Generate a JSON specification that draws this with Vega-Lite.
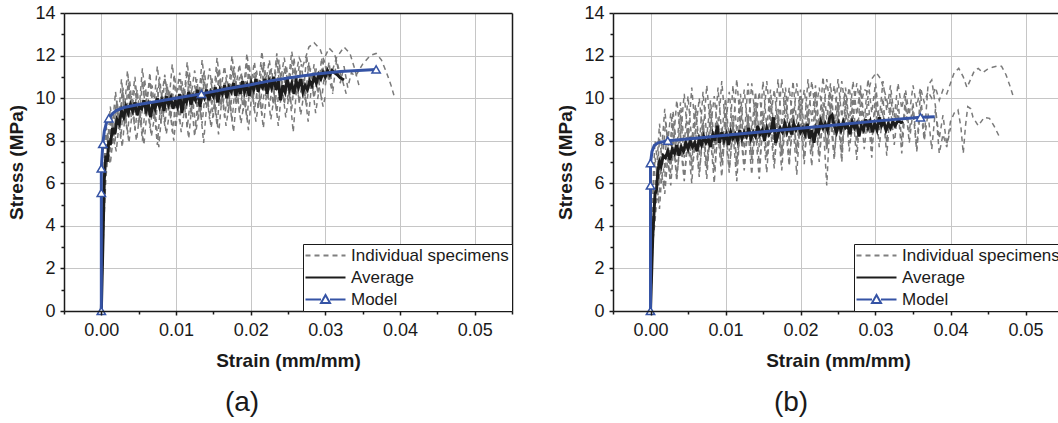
{
"$schema": "https://vega.github.io/schema/vega-lite/v6.json",
"padding": {"left": 7, "top": 4, "right": 0, "bottom": 0},
"config": {
 "font": "Liberation Sans",
 "view": {"stroke": null},
 "axis": {"labelFont": "Liberation Sans", "labelFontSize": 18, "labelColor": "#1a1a1a", "titleFont": "Liberation Sans", "titleFontSize": 19, "titleFontWeight": "bold", "titleColor": "#1a1a1a", "domainColor": "#1a1a1a", "domainWidth": 1.5, "tickColor": "#1a1a1a", "tickWidth": 1.5, "gridColor": "#c6c6c6", "gridWidth": 1},
 "legend": {"labelFont": "Liberation Sans", "labelFontSize": 17, "labelColor": "#1a1a1a"},
 "title": {"font": "Liberation Sans", "fontSize": 28, "fontWeight": "normal", "color": "#1a1a1a"}
},
"datasets": {
 "aS": [
  {"s":1,"x":0,"y":0},{"s":1,"x":0.0002,"y":3},{"s":1,"x":0.0004,"y":6},{"s":1,"x":0.0006,"y":7.6},{"s":1,"x":0.0008,"y":8.4},{"s":1,"x":0.001,"y":7.9},{"s":1,"x":0.0013,"y":9.2},{"s":1,"x":0.0016,"y":8.3},{"s":1,"x":0.002,"y":9.8},{"s":1,"x":0.0024,"y":8.6},{"s":1,"x":0.0028,"y":10.4},{"s":1,"x":0.0032,"y":8.9},{"s":1,"x":0.0036,"y":10.9},{"s":1,"x":0.004,"y":9.1},{"s":1,"x":0.0045,"y":10.6},{"s":1,"x":0.005,"y":8.7},{"s":1,"x":0.0055,"y":10.8},{"s":1,"x":0.006,"y":9.3},{"s":1,"x":0.0065,"y":11.2},{"s":1,"x":0.007,"y":9.0},{"s":1,"x":0.0075,"y":10.5},{"s":1,"x":0.008,"y":8.8},{"s":1,"x":0.0085,"y":11.0},{"s":1,"x":0.009,"y":9.4},{"s":1,"x":0.0095,"y":10.3},{"s":1,"x":0.01,"y":8.6},{"s":1,"x":0.0105,"y":10.9},{"s":1,"x":0.011,"y":9.5},{"s":1,"x":0.0115,"y":11.3},{"s":1,"x":0.012,"y":9.2},{"s":1,"x":0.0125,"y":10.6},{"s":1,"x":0.013,"y":9.0},{"s":1,"x":0.0135,"y":11.1},{"s":1,"x":0.014,"y":9.7},{"s":1,"x":0.0145,"y":10.4},{"s":1,"x":0.015,"y":9.1},{"s":1,"x":0.0155,"y":11.4},{"s":1,"x":0.016,"y":9.6},{"s":1,"x":0.0165,"y":10.8},{"s":1,"x":0.017,"y":9.3},{"s":1,"x":0.0175,"y":11.5},{"s":1,"x":0.018,"y":9.8},{"s":1,"x":0.0185,"y":11.0},{"s":1,"x":0.019,"y":9.4},{"s":1,"x":0.0195,"y":11.7},{"s":1,"x":0.02,"y":10.0},{"s":1,"x":0.0205,"y":11.2},{"s":1,"x":0.021,"y":9.5},{"s":1,"x":0.0215,"y":11.6},{"s":1,"x":0.022,"y":10.1},{"s":1,"x":0.0225,"y":11.3},{"s":1,"x":0.023,"y":9.7},{"s":1,"x":0.0235,"y":11.9},{"s":1,"x":0.024,"y":10.2},{"s":1,"x":0.0245,"y":11.4},{"s":1,"x":0.025,"y":9.9},{"s":1,"x":0.0255,"y":11.8},{"s":1,"x":0.026,"y":10.3},{"s":1,"x":0.0265,"y":11.5},{"s":1,"x":0.027,"y":10.0},{"s":1,"x":0.0275,"y":12.0},{"s":1,"x":0.028,"y":10.4},{"s":1,"x":0.0285,"y":11.6},{"s":1,"x":0.029,"y":10.2},{"s":1,"x":0.0295,"y":11.9},{"s":1,"x":0.03,"y":10.6},{"s":1,"x":0.0305,"y":11.7},{"s":1,"x":0.031,"y":10.3},{"s":1,"x":0.0315,"y":11.8},{"s":1,"x":0.032,"y":10.7},{"s":1,"x":0.0325,"y":11.5},{"s":1,"x":0.033,"y":10.5},{"s":1,"x":0.0335,"y":11.2},{"s":1,"x":0.034,"y":11.0},{"s":1,"x":0.035,"y":11.6},{"s":1,"x":0.036,"y":12.0},{"s":1,"x":0.0368,"y":12.1},{"s":1,"x":0.0375,"y":11.8},{"s":1,"x":0.0382,"y":11.2},{"s":1,"x":0.0388,"y":10.6},{"s":1,"x":0.0393,"y":10.0},
  {"s":2,"x":0,"y":0},{"s":2,"x":0.0003,"y":4.5},{"s":2,"x":0.0005,"y":6.8},{"s":2,"x":0.0008,"y":7.9},{"s":2,"x":0.0011,"y":7.2},{"s":2,"x":0.0014,"y":8.6},{"s":2,"x":0.0018,"y":7.8},{"s":2,"x":0.0022,"y":9.4},{"s":2,"x":0.0026,"y":8.1},{"s":2,"x":0.003,"y":9.8},{"s":2,"x":0.0035,"y":8.3},{"s":2,"x":0.004,"y":10.1},{"s":2,"x":0.0045,"y":8.5},{"s":2,"x":0.005,"y":9.9},{"s":2,"x":0.0055,"y":8.0},{"s":2,"x":0.006,"y":10.2},{"s":2,"x":0.0065,"y":8.6},{"s":2,"x":0.007,"y":9.7},{"s":2,"x":0.0075,"y":7.8},{"s":2,"x":0.008,"y":10.0},{"s":2,"x":0.0085,"y":8.7},{"s":2,"x":0.009,"y":10.4},{"s":2,"x":0.0095,"y":8.4},{"s":2,"x":0.01,"y":9.9},{"s":2,"x":0.0105,"y":8.9},{"s":2,"x":0.011,"y":10.5},{"s":2,"x":0.0115,"y":8.6},{"s":2,"x":0.012,"y":10.1},{"s":2,"x":0.0125,"y":8.2},{"s":2,"x":0.013,"y":10.3},{"s":2,"x":0.0135,"y":8.8},{"s":2,"x":0.014,"y":10.6},{"s":2,"x":0.0145,"y":9.0},{"s":2,"x":0.015,"y":10.2},{"s":2,"x":0.0155,"y":8.7},{"s":2,"x":0.016,"y":10.7},{"s":2,"x":0.0165,"y":9.1},{"s":2,"x":0.017,"y":10.4},{"s":2,"x":0.0175,"y":8.9},{"s":2,"x":0.018,"y":10.9},{"s":2,"x":0.0185,"y":9.3},{"s":2,"x":0.019,"y":10.5},{"s":2,"x":0.0195,"y":9.0},{"s":2,"x":0.02,"y":11.0},{"s":2,"x":0.0205,"y":9.4},{"s":2,"x":0.021,"y":10.7},{"s":2,"x":0.0215,"y":9.2},{"s":2,"x":0.022,"y":11.1},{"s":2,"x":0.0225,"y":9.6},{"s":2,"x":0.023,"y":10.8},{"s":2,"x":0.0235,"y":9.3},{"s":2,"x":0.024,"y":11.2},{"s":2,"x":0.0245,"y":9.7},{"s":2,"x":0.025,"y":10.9},{"s":2,"x":0.0255,"y":9.5},{"s":2,"x":0.026,"y":11.3},{"s":2,"x":0.0265,"y":9.8},{"s":2,"x":0.027,"y":11.0},{"s":2,"x":0.0275,"y":9.6},{"s":2,"x":0.028,"y":11.4},{"s":2,"x":0.0285,"y":10.0},{"s":2,"x":0.029,"y":11.1},{"s":2,"x":0.0295,"y":9.9},{"s":2,"x":0.03,"y":11.5},{"s":2,"x":0.0305,"y":10.8},{"s":2,"x":0.0315,"y":11.9},{"s":2,"x":0.0325,"y":12.4},{"s":2,"x":0.0333,"y":12.1},{"s":2,"x":0.034,"y":11.3},{"s":2,"x":0.0345,"y":10.6},
  {"s":3,"x":0,"y":0},{"s":3,"x":0.0002,"y":4},{"s":3,"x":0.0004,"y":7.2},{"s":3,"x":0.0006,"y":8.8},{"s":3,"x":0.0009,"y":8.1},{"s":3,"x":0.0012,"y":9.6},{"s":3,"x":0.0015,"y":8.7},{"s":3,"x":0.0019,"y":10.3},{"s":3,"x":0.0023,"y":9.0},{"s":3,"x":0.0027,"y":10.9},{"s":3,"x":0.0031,"y":9.4},{"s":3,"x":0.0035,"y":11.3},{"s":3,"x":0.004,"y":9.6},{"s":3,"x":0.0045,"y":11.0},{"s":3,"x":0.005,"y":9.2},{"s":3,"x":0.0055,"y":11.4},{"s":3,"x":0.006,"y":9.8},{"s":3,"x":0.0065,"y":10.8},{"s":3,"x":0.007,"y":9.5},{"s":3,"x":0.0075,"y":11.5},{"s":3,"x":0.008,"y":9.9},{"s":3,"x":0.0085,"y":11.1},{"s":3,"x":0.009,"y":9.6},{"s":3,"x":0.0095,"y":11.6},{"s":3,"x":0.01,"y":10.0},{"s":3,"x":0.0105,"y":11.2},{"s":3,"x":0.011,"y":9.7},{"s":3,"x":0.0115,"y":11.7},{"s":3,"x":0.012,"y":10.1},{"s":3,"x":0.0125,"y":11.3},{"s":3,"x":0.013,"y":9.8},{"s":3,"x":0.0135,"y":11.8},{"s":3,"x":0.014,"y":10.2},{"s":3,"x":0.0145,"y":11.4},{"s":3,"x":0.015,"y":9.9},{"s":3,"x":0.0155,"y":11.9},{"s":3,"x":0.016,"y":10.4},{"s":3,"x":0.0165,"y":11.5},{"s":3,"x":0.017,"y":10.1},{"s":3,"x":0.0175,"y":12.0},{"s":3,"x":0.018,"y":10.5},{"s":3,"x":0.0185,"y":11.6},{"s":3,"x":0.019,"y":10.2},{"s":3,"x":0.0195,"y":12.1},{"s":3,"x":0.02,"y":10.6},{"s":3,"x":0.0205,"y":11.7},{"s":3,"x":0.021,"y":10.3},{"s":3,"x":0.0215,"y":12.2},{"s":3,"x":0.022,"y":10.7},{"s":3,"x":0.0225,"y":11.8},{"s":3,"x":0.023,"y":10.4},{"s":3,"x":0.0235,"y":12.1},{"s":3,"x":0.024,"y":10.8},{"s":3,"x":0.0245,"y":11.9},{"s":3,"x":0.025,"y":10.6},{"s":3,"x":0.0255,"y":12.2},{"s":3,"x":0.026,"y":11.0},{"s":3,"x":0.0265,"y":11.9},{"s":3,"x":0.027,"y":11.5},{"s":3,"x":0.0278,"y":12.4},{"s":3,"x":0.0285,"y":12.6},{"s":3,"x":0.0293,"y":12.3},{"s":3,"x":0.03,"y":11.6},{"s":3,"x":0.0306,"y":10.8},{"s":3,"x":0.031,"y":10.2},
  {"s":4,"x":0,"y":0},{"s":4,"x":0.0003,"y":3.8},{"s":4,"x":0.0006,"y":6.2},{"s":4,"x":0.0009,"y":7.4},{"s":4,"x":0.0012,"y":6.9},{"s":4,"x":0.0016,"y":8.2},{"s":4,"x":0.002,"y":7.5},{"s":4,"x":0.0024,"y":8.9},{"s":4,"x":0.0028,"y":7.7},{"s":4,"x":0.0032,"y":9.3},{"s":4,"x":0.0037,"y":7.9},{"s":4,"x":0.0042,"y":9.6},{"s":4,"x":0.0047,"y":8.0},{"s":4,"x":0.0052,"y":9.4},{"s":4,"x":0.0057,"y":7.8},{"s":4,"x":0.0062,"y":9.7},{"s":4,"x":0.0067,"y":8.2},{"s":4,"x":0.0072,"y":9.3},{"s":4,"x":0.0077,"y":7.7},{"s":4,"x":0.0082,"y":9.8},{"s":4,"x":0.0087,"y":8.3},{"s":4,"x":0.0092,"y":9.5},{"s":4,"x":0.0097,"y":8.0},{"s":4,"x":0.0102,"y":9.9},{"s":4,"x":0.0107,"y":8.4},{"s":4,"x":0.0112,"y":9.6},{"s":4,"x":0.0117,"y":8.1},{"s":4,"x":0.0122,"y":10.0},{"s":4,"x":0.0127,"y":8.5},{"s":4,"x":0.0132,"y":9.7},{"s":4,"x":0.0137,"y":7.9},{"s":4,"x":0.0142,"y":10.1},{"s":4,"x":0.0147,"y":8.6},{"s":4,"x":0.0152,"y":9.8},{"s":4,"x":0.0157,"y":8.3},{"s":4,"x":0.0162,"y":10.2},{"s":4,"x":0.0167,"y":8.7},{"s":4,"x":0.0172,"y":9.9},{"s":4,"x":0.0177,"y":8.4},{"s":4,"x":0.0182,"y":10.3},{"s":4,"x":0.0187,"y":8.8},{"s":4,"x":0.0192,"y":10.0},{"s":4,"x":0.0197,"y":8.5},{"s":4,"x":0.0202,"y":10.4},{"s":4,"x":0.0207,"y":8.9},{"s":4,"x":0.0212,"y":10.1},{"s":4,"x":0.0217,"y":8.6},{"s":4,"x":0.0222,"y":10.5},{"s":4,"x":0.0227,"y":9.0},{"s":4,"x":0.0232,"y":10.2},{"s":4,"x":0.0237,"y":8.7},{"s":4,"x":0.0242,"y":10.6},{"s":4,"x":0.0247,"y":9.1},{"s":4,"x":0.0252,"y":10.3},{"s":4,"x":0.0257,"y":8.4},{"s":4,"x":0.0262,"y":10.7},{"s":4,"x":0.0267,"y":9.2},{"s":4,"x":0.0272,"y":10.4},{"s":4,"x":0.0277,"y":8.9},{"s":4,"x":0.0282,"y":10.8},{"s":4,"x":0.0287,"y":9.3},{"s":4,"x":0.0292,"y":10.5},{"s":4,"x":0.0297,"y":9.6},{"s":4,"x":0.03,"y":10.1},
  {"s":5,"x":0,"y":0},{"s":5,"x":0.0002,"y":3.5},{"s":5,"x":0.0005,"y":7.0},{"s":5,"x":0.0007,"y":8.3},{"s":5,"x":0.001,"y":7.6},{"s":5,"x":0.0013,"y":9.0},{"s":5,"x":0.0017,"y":8.2},{"s":5,"x":0.0021,"y":9.9},{"s":5,"x":0.0025,"y":8.6},{"s":5,"x":0.0029,"y":10.5},{"s":5,"x":0.0033,"y":8.8},{"s":5,"x":0.0038,"y":10.8},{"s":5,"x":0.0043,"y":9.0},{"s":5,"x":0.0048,"y":10.4},{"s":5,"x":0.0053,"y":8.7},{"s":5,"x":0.0058,"y":10.9},{"s":5,"x":0.0063,"y":9.2},{"s":5,"x":0.0068,"y":10.6},{"s":5,"x":0.0073,"y":8.9},{"s":5,"x":0.0078,"y":11.0},{"s":5,"x":0.0083,"y":9.3},{"s":5,"x":0.0088,"y":10.7},{"s":5,"x":0.0093,"y":9.0},{"s":5,"x":0.0098,"y":11.1},{"s":5,"x":0.0103,"y":9.4},{"s":5,"x":0.0108,"y":10.8},{"s":5,"x":0.0113,"y":9.1},{"s":5,"x":0.0118,"y":11.2},{"s":5,"x":0.0123,"y":9.5},{"s":5,"x":0.0128,"y":10.9},{"s":5,"x":0.0133,"y":9.2},{"s":5,"x":0.0138,"y":11.3},{"s":5,"x":0.0143,"y":9.6},{"s":5,"x":0.0148,"y":11.0},{"s":5,"x":0.0153,"y":9.3},{"s":5,"x":0.0158,"y":11.4},{"s":5,"x":0.0163,"y":9.7},{"s":5,"x":0.0168,"y":11.1},{"s":5,"x":0.0173,"y":9.4},{"s":5,"x":0.0178,"y":11.5},{"s":5,"x":0.0183,"y":9.8},{"s":5,"x":0.0188,"y":11.2},{"s":5,"x":0.0193,"y":9.5},{"s":5,"x":0.0198,"y":11.6},{"s":5,"x":0.0203,"y":9.9},{"s":5,"x":0.0208,"y":11.3},{"s":5,"x":0.0213,"y":9.6},{"s":5,"x":0.0218,"y":11.7},{"s":5,"x":0.0223,"y":10.0},{"s":5,"x":0.0228,"y":11.4},{"s":5,"x":0.0233,"y":9.7},{"s":5,"x":0.0238,"y":11.8},{"s":5,"x":0.0243,"y":10.1},{"s":5,"x":0.0248,"y":11.5},{"s":5,"x":0.0253,"y":9.8},{"s":5,"x":0.0258,"y":11.9},{"s":5,"x":0.0263,"y":10.2},{"s":5,"x":0.0268,"y":11.6},{"s":5,"x":0.0273,"y":9.9},{"s":5,"x":0.0278,"y":11.7},{"s":5,"x":0.0283,"y":10.3},{"s":5,"x":0.0288,"y":11.4},{"s":5,"x":0.0293,"y":11.0},{"s":5,"x":0.0299,"y":11.9},{"s":5,"x":0.0305,"y":12.35},{"s":5,"x":0.0312,"y":12.1},{"s":5,"x":0.0318,"y":11.4},{"s":5,"x":0.0324,"y":10.7},{"s":5,"x":0.0328,"y":10.2}
 ],
 "aAvg": [
  {"x":0,"y":0},{"x":0.0002,"y":3},{"x":0.0004,"y":6.2},{"x":0.0006,"y":7.3},{"x":0.0008,"y":7.0},{"x":0.001,"y":8.0},{"x":0.0012,"y":7.8},{"x":0.0015,"y":8.6},{"x":0.0018,"y":8.3},{"x":0.0021,"y":9.0},{"x":0.0024,"y":8.8},{"x":0.0027,"y":9.4},{"x":0.003,"y":9.1},{"x":0.0033,"y":9.6},{"x":0.0036,"y":9.3},{"x":0.0039,"y":9.7},{"x":0.0042,"y":9.4},{"x":0.0045,"y":9.8},{"x":0.0048,"y":9.2},{"x":0.0051,"y":9.6},{"x":0.0054,"y":9.5},{"x":0.0057,"y":9.9},{"x":0.006,"y":9.4},{"x":0.0063,"y":9.7},{"x":0.0066,"y":9.1},{"x":0.0069,"y":9.8},{"x":0.0072,"y":9.5},{"x":0.0075,"y":10.0},{"x":0.0078,"y":9.6},{"x":0.0081,"y":9.9},{"x":0.0084,"y":9.4},{"x":0.0087,"y":10.1},{"x":0.009,"y":9.7},{"x":0.0093,"y":10.0},{"x":0.0096,"y":9.5},{"x":0.0099,"y":9.9},{"x":0.0102,"y":9.6},{"x":0.0105,"y":10.2},{"x":0.0108,"y":9.3},{"x":0.0111,"y":10.0},{"x":0.0114,"y":9.8},{"x":0.0117,"y":10.3},{"x":0.012,"y":9.7},{"x":0.0123,"y":10.1},{"x":0.0126,"y":9.9},{"x":0.0129,"y":10.4},{"x":0.0132,"y":9.6},{"x":0.0135,"y":10.2},{"x":0.0138,"y":10.0},{"x":0.0141,"y":10.4},{"x":0.0144,"y":9.9},{"x":0.0147,"y":10.3},{"x":0.015,"y":10.1},{"x":0.0153,"y":10.5},{"x":0.0156,"y":9.8},{"x":0.0159,"y":10.4},{"x":0.0162,"y":10.2},{"x":0.0165,"y":10.6},{"x":0.0168,"y":10.0},{"x":0.0171,"y":10.5},{"x":0.0174,"y":10.3},{"x":0.0177,"y":10.7},{"x":0.018,"y":10.1},{"x":0.0183,"y":10.6},{"x":0.0186,"y":10.2},{"x":0.0189,"y":10.8},{"x":0.0192,"y":10.3},{"x":0.0195,"y":10.6},{"x":0.0198,"y":10.1},{"x":0.0201,"y":10.7},{"x":0.0204,"y":10.4},{"x":0.0207,"y":10.9},{"x":0.021,"y":10.3},{"x":0.0213,"y":10.7},{"x":0.0216,"y":10.5},{"x":0.0219,"y":10.9},{"x":0.0222,"y":10.2},{"x":0.0225,"y":10.8},{"x":0.0228,"y":10.5},{"x":0.0231,"y":11.0},{"x":0.0234,"y":10.4},{"x":0.0237,"y":10.8},{"x":0.024,"y":9.9},{"x":0.0243,"y":10.6},{"x":0.0246,"y":10.3},{"x":0.0249,"y":10.9},{"x":0.0252,"y":10.4},{"x":0.0255,"y":10.7},{"x":0.0258,"y":10.2},{"x":0.0261,"y":10.8},{"x":0.0264,"y":10.5},{"x":0.0267,"y":10.9},{"x":0.027,"y":10.3},{"x":0.0273,"y":10.6},{"x":0.0276,"y":10.4},{"x":0.0279,"y":10.8},{"x":0.0282,"y":10.6},{"x":0.0285,"y":11.0},{"x":0.0288,"y":10.7},{"x":0.0291,"y":11.1},{"x":0.0294,"y":10.9},{"x":0.0297,"y":11.2},{"x":0.03,"y":11.0},{"x":0.0303,"y":11.3},{"x":0.0306,"y":11.1},{"x":0.0309,"y":11.3},{"x":0.0312,"y":11.2},{"x":0.0316,"y":11.1},{"x":0.032,"y":10.95},{"x":0.0325,"y":10.85}
 ],
 "aModel": [
  {"x":0,"y":0},{"x":0,"y":5.55},{"x":0,"y":6.7},{"x":0.0002,"y":7.85},{"x":0.0004,"y":8.45},{"x":0.0007,"y":8.85},{"x":0.001,"y":9.05},{"x":0.0015,"y":9.28},{"x":0.002,"y":9.42},{"x":0.003,"y":9.56},{"x":0.005,"y":9.7},{"x":0.008,"y":9.88},{"x":0.0105,"y":10.03},{"x":0.0134,"y":10.2},{"x":0.017,"y":10.45},{"x":0.02,"y":10.63},{"x":0.0224,"y":10.8},{"x":0.025,"y":10.95},{"x":0.0285,"y":11.12},{"x":0.032,"y":11.25},{"x":0.0368,"y":11.35}
 ],
 "aMark": [
  {"x":0,"y":0},{"x":0,"y":5.55},{"x":0,"y":6.7},{"x":0.0002,"y":7.85},{"x":0.001,"y":9.05},{"x":0.0134,"y":10.2},{"x":0.0368,"y":11.35}
 ],
 "bS": [
  {"s":1,"x":0,"y":0},{"s":1,"x":0.0002,"y":3.5},{"s":1,"x":0.0004,"y":5.8},{"s":1,"x":0.0006,"y":7.2},{"s":1,"x":0.0009,"y":6.4},{"s":1,"x":0.0012,"y":8.1},{"s":1,"x":0.0016,"y":7.0},{"s":1,"x":0.002,"y":8.9},{"s":1,"x":0.0025,"y":7.3},{"s":1,"x":0.003,"y":9.4},{"s":1,"x":0.0035,"y":7.6},{"s":1,"x":0.004,"y":9.8},{"s":1,"x":0.0045,"y":7.8},{"s":1,"x":0.005,"y":10.1},{"s":1,"x":0.0055,"y":8.0},{"s":1,"x":0.006,"y":9.7},{"s":1,"x":0.0065,"y":7.7},{"s":1,"x":0.007,"y":10.3},{"s":1,"x":0.0075,"y":8.2},{"s":1,"x":0.008,"y":9.9},{"s":1,"x":0.0085,"y":7.9},{"s":1,"x":0.009,"y":10.5},{"s":1,"x":0.0095,"y":8.3},{"s":1,"x":0.01,"y":10.0},{"s":1,"x":0.0105,"y":8.0},{"s":1,"x":0.011,"y":10.6},{"s":1,"x":0.0115,"y":8.4},{"s":1,"x":0.012,"y":10.2},{"s":1,"x":0.0125,"y":8.1},{"s":1,"x":0.013,"y":10.7},{"s":1,"x":0.0135,"y":8.5},{"s":1,"x":0.014,"y":10.3},{"s":1,"x":0.0145,"y":8.2},{"s":1,"x":0.015,"y":10.8},{"s":1,"x":0.0155,"y":8.6},{"s":1,"x":0.016,"y":10.4},{"s":1,"x":0.0165,"y":8.3},{"s":1,"x":0.017,"y":10.9},{"s":1,"x":0.0175,"y":8.7},{"s":1,"x":0.018,"y":10.5},{"s":1,"x":0.0185,"y":8.4},{"s":1,"x":0.019,"y":10.8},{"s":1,"x":0.0195,"y":8.8},{"s":1,"x":0.02,"y":10.4},{"s":1,"x":0.0205,"y":8.5},{"s":1,"x":0.021,"y":10.9},{"s":1,"x":0.0215,"y":8.9},{"s":1,"x":0.022,"y":10.6},{"s":1,"x":0.0225,"y":8.6},{"s":1,"x":0.023,"y":11.0},{"s":1,"x":0.0235,"y":9.0},{"s":1,"x":0.024,"y":10.7},{"s":1,"x":0.0245,"y":8.7},{"s":1,"x":0.025,"y":10.9},{"s":1,"x":0.0255,"y":9.1},{"s":1,"x":0.026,"y":10.5},{"s":1,"x":0.0265,"y":8.8},{"s":1,"x":0.027,"y":10.8},{"s":1,"x":0.0275,"y":9.2},{"s":1,"x":0.028,"y":10.6},{"s":1,"x":0.0285,"y":8.9},{"s":1,"x":0.029,"y":10.9},{"s":1,"x":0.0295,"y":9.3},{"s":1,"x":0.03,"y":10.7},{"s":1,"x":0.0305,"y":9.0},{"s":1,"x":0.031,"y":10.8},{"s":1,"x":0.0315,"y":9.4},{"s":1,"x":0.032,"y":10.6},{"s":1,"x":0.0325,"y":9.1},{"s":1,"x":0.033,"y":10.7},{"s":1,"x":0.0335,"y":9.5},{"s":1,"x":0.034,"y":10.4},{"s":1,"x":0.0345,"y":9.2},{"s":1,"x":0.035,"y":10.6},{"s":1,"x":0.0355,"y":9.6},{"s":1,"x":0.036,"y":10.5},{"s":1,"x":0.0365,"y":9.8},{"s":1,"x":0.037,"y":10.3},{"s":1,"x":0.0375,"y":10.0},{"s":1,"x":0.038,"y":10.5},{"s":1,"x":0.0385,"y":9.9},{"s":1,"x":0.039,"y":10.4},{"s":1,"x":0.0395,"y":10.2},{"s":1,"x":0.04,"y":10.7},{"s":1,"x":0.0405,"y":11.2},{"s":1,"x":0.0411,"y":11.4},{"s":1,"x":0.0417,"y":11.0},{"s":1,"x":0.0422,"y":10.5},{"s":1,"x":0.0427,"y":10.9},{"s":1,"x":0.0432,"y":11.3},{"s":1,"x":0.0437,"y":11.4},{"s":1,"x":0.0443,"y":11.2},{"s":1,"x":0.0449,"y":11.35},{"s":1,"x":0.0456,"y":11.45},{"s":1,"x":0.0462,"y":11.5},{"s":1,"x":0.0468,"y":11.5},{"s":1,"x":0.0474,"y":11.1},{"s":1,"x":0.0479,"y":10.6},{"s":1,"x":0.0484,"y":10.05},
  {"s":2,"x":0,"y":0},{"s":2,"x":0.0003,"y":3.2},{"s":2,"x":0.0006,"y":4.2},{"s":2,"x":0.0009,"y":5.6},{"s":2,"x":0.0012,"y":4.8},{"s":2,"x":0.0015,"y":6.4},{"s":2,"x":0.0019,"y":5.5},{"s":2,"x":0.0023,"y":7.2},{"s":2,"x":0.0027,"y":5.9},{"s":2,"x":0.0031,"y":7.8},{"s":2,"x":0.0035,"y":6.1},{"s":2,"x":0.004,"y":8.3},{"s":2,"x":0.0045,"y":6.3},{"s":2,"x":0.005,"y":8.0},{"s":2,"x":0.0055,"y":6.0},{"s":2,"x":0.006,"y":8.5},{"s":2,"x":0.0065,"y":6.5},{"s":2,"x":0.007,"y":8.2},{"s":2,"x":0.0075,"y":6.2},{"s":2,"x":0.008,"y":8.7},{"s":2,"x":0.0085,"y":6.6},{"s":2,"x":0.009,"y":8.3},{"s":2,"x":0.0095,"y":6.3},{"s":2,"x":0.01,"y":8.8},{"s":2,"x":0.0105,"y":6.7},{"s":2,"x":0.011,"y":8.4},{"s":2,"x":0.0115,"y":6.1},{"s":2,"x":0.012,"y":8.9},{"s":2,"x":0.0125,"y":6.8},{"s":2,"x":0.013,"y":8.5},{"s":2,"x":0.0135,"y":6.4},{"s":2,"x":0.014,"y":9.0},{"s":2,"x":0.0145,"y":6.9},{"s":2,"x":0.015,"y":8.6},{"s":2,"x":0.0155,"y":6.5},{"s":2,"x":0.016,"y":9.1},{"s":2,"x":0.0165,"y":7.0},{"s":2,"x":0.017,"y":8.7},{"s":2,"x":0.0175,"y":6.6},{"s":2,"x":0.018,"y":9.2},{"s":2,"x":0.0185,"y":7.1},{"s":2,"x":0.019,"y":8.8},{"s":2,"x":0.0195,"y":6.4},{"s":2,"x":0.02,"y":9.3},{"s":2,"x":0.0205,"y":7.2},{"s":2,"x":0.021,"y":8.9},{"s":2,"x":0.0215,"y":6.8},{"s":2,"x":0.022,"y":9.4},{"s":2,"x":0.0225,"y":7.3},{"s":2,"x":0.023,"y":9.0},{"s":2,"x":0.0235,"y":5.9},{"s":2,"x":0.024,"y":9.5},{"s":2,"x":0.0245,"y":7.4},{"s":2,"x":0.025,"y":9.1},{"s":2,"x":0.0255,"y":7.0},{"s":2,"x":0.026,"y":9.6},{"s":2,"x":0.0265,"y":7.5},{"s":2,"x":0.027,"y":9.2},{"s":2,"x":0.0275,"y":7.1},{"s":2,"x":0.028,"y":9.7},{"s":2,"x":0.0285,"y":7.6},{"s":2,"x":0.029,"y":9.3},{"s":2,"x":0.0295,"y":7.2},{"s":2,"x":0.03,"y":9.8},{"s":2,"x":0.0305,"y":7.7},{"s":2,"x":0.031,"y":9.4},{"s":2,"x":0.0315,"y":7.3},{"s":2,"x":0.032,"y":9.6},{"s":2,"x":0.0325,"y":7.8},{"s":2,"x":0.033,"y":9.5},{"s":2,"x":0.0335,"y":7.4},{"s":2,"x":0.034,"y":9.7},{"s":2,"x":0.0345,"y":7.9},{"s":2,"x":0.035,"y":9.4},{"s":2,"x":0.0355,"y":7.5},{"s":2,"x":0.036,"y":9.6},{"s":2,"x":0.0365,"y":8.0},{"s":2,"x":0.037,"y":9.3},{"s":2,"x":0.0375,"y":7.6},{"s":2,"x":0.038,"y":9.5},{"s":2,"x":0.0385,"y":8.1},{"s":2,"x":0.039,"y":9.2},{"s":2,"x":0.0395,"y":7.8},{"s":2,"x":0.04,"y":8.9},{"s":2,"x":0.0405,"y":9.3},{"s":2,"x":0.041,"y":9.45},{"s":2,"x":0.0414,"y":8.6},{"s":2,"x":0.0417,"y":7.4},{"s":2,"x":0.042,"y":8.7},{"s":2,"x":0.0423,"y":9.6},{"s":2,"x":0.0427,"y":9.5},{"s":2,"x":0.043,"y":9.1},{"s":2,"x":0.0437,"y":8.7},{"s":2,"x":0.0445,"y":9.1},{"s":2,"x":0.0452,"y":9.05},{"s":2,"x":0.0458,"y":8.7},{"s":2,"x":0.0465,"y":8.2},
  {"s":3,"x":0,"y":0},{"s":3,"x":0.0002,"y":3.0},{"s":3,"x":0.0005,"y":5.2},{"s":3,"x":0.0008,"y":6.6},{"s":3,"x":0.0011,"y":5.9},{"s":3,"x":0.0014,"y":7.5},{"s":3,"x":0.0018,"y":6.5},{"s":3,"x":0.0022,"y":8.4},{"s":3,"x":0.0026,"y":6.8},{"s":3,"x":0.003,"y":8.9},{"s":3,"x":0.0035,"y":7.0},{"s":3,"x":0.004,"y":9.2},{"s":3,"x":0.0045,"y":7.2},{"s":3,"x":0.005,"y":8.9},{"s":3,"x":0.0055,"y":6.9},{"s":3,"x":0.006,"y":9.4},{"s":3,"x":0.0065,"y":7.3},{"s":3,"x":0.007,"y":9.0},{"s":3,"x":0.0075,"y":6.7},{"s":3,"x":0.008,"y":9.5},{"s":3,"x":0.0085,"y":7.4},{"s":3,"x":0.009,"y":9.1},{"s":3,"x":0.0095,"y":7.0},{"s":3,"x":0.01,"y":9.6},{"s":3,"x":0.0105,"y":7.5},{"s":3,"x":0.011,"y":9.2},{"s":3,"x":0.0115,"y":6.8},{"s":3,"x":0.012,"y":9.7},{"s":3,"x":0.0125,"y":7.6},{"s":3,"x":0.013,"y":9.3},{"s":3,"x":0.0135,"y":7.1},{"s":3,"x":0.014,"y":9.8},{"s":3,"x":0.0145,"y":7.7},{"s":3,"x":0.015,"y":9.4},{"s":3,"x":0.0155,"y":7.2},{"s":3,"x":0.016,"y":9.9},{"s":3,"x":0.0165,"y":7.8},{"s":3,"x":0.017,"y":9.5},{"s":3,"x":0.0175,"y":7.3},{"s":3,"x":0.018,"y":10.0},{"s":3,"x":0.0185,"y":7.9},{"s":3,"x":0.019,"y":9.6},{"s":3,"x":0.0195,"y":7.4},{"s":3,"x":0.02,"y":10.1},{"s":3,"x":0.0205,"y":8.0},{"s":3,"x":0.021,"y":9.7},{"s":3,"x":0.0215,"y":7.5},{"s":3,"x":0.022,"y":10.2},{"s":3,"x":0.0225,"y":8.1},{"s":3,"x":0.023,"y":9.8},{"s":3,"x":0.0235,"y":7.6},{"s":3,"x":0.024,"y":10.3},{"s":3,"x":0.0245,"y":8.2},{"s":3,"x":0.025,"y":9.9},{"s":3,"x":0.0255,"y":7.2},{"s":3,"x":0.026,"y":10.2},{"s":3,"x":0.0265,"y":8.3},{"s":3,"x":0.027,"y":10.0},{"s":3,"x":0.0275,"y":7.7},{"s":3,"x":0.028,"y":10.4},{"s":3,"x":0.0285,"y":8.4},{"s":3,"x":0.029,"y":10.1},{"s":3,"x":0.0295,"y":7.8},{"s":3,"x":0.03,"y":10.3},{"s":3,"x":0.0305,"y":8.5},{"s":3,"x":0.031,"y":10.0},{"s":3,"x":0.0315,"y":7.9},{"s":3,"x":0.032,"y":10.2},{"s":3,"x":0.0325,"y":8.6},{"s":3,"x":0.033,"y":9.9},{"s":3,"x":0.0335,"y":8.0},{"s":3,"x":0.034,"y":10.1},{"s":3,"x":0.0345,"y":8.4},{"s":3,"x":0.035,"y":9.8},{"s":3,"x":0.0355,"y":7.6},{"s":3,"x":0.036,"y":10.3},{"s":3,"x":0.0365,"y":8.1},{"s":3,"x":0.037,"y":10.6},{"s":3,"x":0.0375,"y":10.85},{"s":3,"x":0.038,"y":9.6},{"s":3,"x":0.0385,"y":7.4},{"s":3,"x":0.039,"y":8.3},{"s":3,"x":0.0395,"y":7.7},{"s":3,"x":0.04,"y":8.6},
  {"s":4,"x":0,"y":0},{"s":4,"x":0.0002,"y":4.0},{"s":4,"x":0.0004,"y":6.5},{"s":4,"x":0.0006,"y":8.0},{"s":4,"x":0.0009,"y":7.1},{"s":4,"x":0.0012,"y":8.8},{"s":4,"x":0.0015,"y":7.6},{"s":4,"x":0.0019,"y":9.5},{"s":4,"x":0.0023,"y":7.9},{"s":4,"x":0.0027,"y":9.3},{"s":4,"x":0.0031,"y":8.1},{"s":4,"x":0.0035,"y":9.9},{"s":4,"x":0.004,"y":8.3},{"s":4,"x":0.0045,"y":10.2},{"s":4,"x":0.005,"y":8.0},{"s":4,"x":0.0055,"y":10.5},{"s":4,"x":0.006,"y":8.4},{"s":4,"x":0.0065,"y":10.0},{"s":4,"x":0.007,"y":8.2},{"s":4,"x":0.0075,"y":10.6},{"s":4,"x":0.008,"y":8.6},{"s":4,"x":0.0085,"y":10.1},{"s":4,"x":0.009,"y":8.3},{"s":4,"x":0.0095,"y":10.8},{"s":4,"x":0.01,"y":8.7},{"s":4,"x":0.0105,"y":10.3},{"s":4,"x":0.011,"y":8.4},{"s":4,"x":0.0115,"y":10.9},{"s":4,"x":0.012,"y":8.8},{"s":4,"x":0.0125,"y":10.4},{"s":4,"x":0.013,"y":8.5},{"s":4,"x":0.0135,"y":10.7},{"s":4,"x":0.014,"y":8.9},{"s":4,"x":0.0145,"y":10.3},{"s":4,"x":0.015,"y":8.6},{"s":4,"x":0.0155,"y":10.8},{"s":4,"x":0.016,"y":9.0},{"s":4,"x":0.0165,"y":10.4},{"s":4,"x":0.017,"y":8.7},{"s":4,"x":0.0175,"y":10.9},{"s":4,"x":0.018,"y":9.1},{"s":4,"x":0.0185,"y":10.5},{"s":4,"x":0.019,"y":8.8},{"s":4,"x":0.0195,"y":10.7},{"s":4,"x":0.02,"y":9.2},{"s":4,"x":0.0205,"y":10.4},{"s":4,"x":0.021,"y":8.9},{"s":4,"x":0.0215,"y":10.8},{"s":4,"x":0.022,"y":9.3},{"s":4,"x":0.0225,"y":10.5},{"s":4,"x":0.023,"y":9.0},{"s":4,"x":0.0235,"y":10.9},{"s":4,"x":0.024,"y":9.4},{"s":4,"x":0.0245,"y":10.6},{"s":4,"x":0.025,"y":9.1},{"s":4,"x":0.0255,"y":10.8},{"s":4,"x":0.026,"y":9.5},{"s":4,"x":0.0265,"y":10.5},{"s":4,"x":0.027,"y":9.2},{"s":4,"x":0.0275,"y":10.7},{"s":4,"x":0.028,"y":9.6},{"s":4,"x":0.0285,"y":10.4},{"s":4,"x":0.029,"y":10.3},{"s":4,"x":0.0295,"y":10.9},{"s":4,"x":0.0301,"y":11.2},{"s":4,"x":0.0307,"y":10.9},{"s":4,"x":0.0313,"y":10.2},{"s":4,"x":0.0318,"y":9.5},
  {"s":5,"x":0,"y":0},{"s":5,"x":0.0003,"y":3.6},{"s":5,"x":0.0005,"y":4.5},{"s":5,"x":0.0008,"y":6.0},{"s":5,"x":0.0011,"y":5.2},{"s":5,"x":0.0014,"y":6.9},{"s":5,"x":0.0018,"y":5.8},{"s":5,"x":0.0022,"y":7.6},{"s":5,"x":0.0026,"y":6.2},{"s":5,"x":0.003,"y":8.1},{"s":5,"x":0.0035,"y":6.4},{"s":5,"x":0.004,"y":7.8},{"s":5,"x":0.0045,"y":6.1},{"s":5,"x":0.005,"y":8.4},{"s":5,"x":0.0055,"y":6.6},{"s":5,"x":0.006,"y":8.0},{"s":5,"x":0.0065,"y":6.3},{"s":5,"x":0.007,"y":8.6},{"s":5,"x":0.0075,"y":6.8},{"s":5,"x":0.008,"y":8.2},{"s":5,"x":0.0085,"y":6.0},{"s":5,"x":0.009,"y":8.8},{"s":5,"x":0.0095,"y":6.9},{"s":5,"x":0.01,"y":8.3},{"s":5,"x":0.0105,"y":6.5},{"s":5,"x":0.011,"y":8.9},{"s":5,"x":0.0115,"y":7.0},{"s":5,"x":0.012,"y":8.4},{"s":5,"x":0.0125,"y":6.6},{"s":5,"x":0.013,"y":9.0},{"s":5,"x":0.0135,"y":7.1},{"s":5,"x":0.014,"y":8.5},{"s":5,"x":0.0145,"y":6.2},{"s":5,"x":0.015,"y":9.1},{"s":5,"x":0.0155,"y":7.2},{"s":5,"x":0.016,"y":8.6},{"s":5,"x":0.0165,"y":6.7},{"s":5,"x":0.017,"y":9.2},{"s":5,"x":0.0175,"y":7.3},{"s":5,"x":0.018,"y":8.7},{"s":5,"x":0.0185,"y":6.8},{"s":5,"x":0.019,"y":9.3},{"s":5,"x":0.0195,"y":7.4},{"s":5,"x":0.02,"y":8.8},{"s":5,"x":0.0205,"y":6.9},{"s":5,"x":0.021,"y":9.4},{"s":5,"x":0.0215,"y":7.5},{"s":5,"x":0.022,"y":8.9},{"s":5,"x":0.0225,"y":7.0},{"s":5,"x":0.023,"y":9.5},{"s":5,"x":0.0235,"y":7.6},{"s":5,"x":0.024,"y":9.0},{"s":5,"x":0.0245,"y":7.1},{"s":5,"x":0.025,"y":9.6},{"s":5,"x":0.0255,"y":7.7},{"s":5,"x":0.026,"y":9.1},{"s":5,"x":0.0265,"y":7.9},{"s":5,"x":0.027,"y":8.6}
 ],
 "bAvg": [
  {"x":0,"y":0},{"x":0.0003,"y":3.5},{"x":0.0006,"y":5.5},{"x":0.0008,"y":5.7},{"x":0.001,"y":6.6},{"x":0.0012,"y":7.0},{"x":0.0014,"y":6.8},{"x":0.0017,"y":7.3},{"x":0.002,"y":7.2},{"x":0.0023,"y":7.5},{"x":0.0026,"y":7.1},{"x":0.0029,"y":7.6},{"x":0.0032,"y":7.4},{"x":0.0035,"y":7.8},{"x":0.0038,"y":7.3},{"x":0.0041,"y":7.7},{"x":0.0044,"y":7.5},{"x":0.0047,"y":7.9},{"x":0.005,"y":7.6},{"x":0.0053,"y":8.0},{"x":0.0056,"y":7.7},{"x":0.0059,"y":7.9},{"x":0.0062,"y":7.5},{"x":0.0065,"y":8.1},{"x":0.0068,"y":7.8},{"x":0.0071,"y":8.2},{"x":0.0074,"y":7.9},{"x":0.0077,"y":8.1},{"x":0.008,"y":7.7},{"x":0.0083,"y":8.3},{"x":0.0086,"y":8.0},{"x":0.0089,"y":8.7},{"x":0.0092,"y":7.9},{"x":0.0095,"y":8.4},{"x":0.0098,"y":8.0},{"x":0.0101,"y":8.3},{"x":0.0104,"y":7.8},{"x":0.0107,"y":8.4},{"x":0.011,"y":8.1},{"x":0.0113,"y":8.3},{"x":0.0116,"y":8.0},{"x":0.0119,"y":8.5},{"x":0.0122,"y":8.1},{"x":0.0125,"y":8.4},{"x":0.0128,"y":8.2},{"x":0.0131,"y":8.6},{"x":0.0134,"y":8.1},{"x":0.0137,"y":8.4},{"x":0.014,"y":8.2},{"x":0.0143,"y":8.7},{"x":0.0146,"y":8.3},{"x":0.0149,"y":8.5},{"x":0.0152,"y":8.0},{"x":0.0155,"y":8.6},{"x":0.0158,"y":8.3},{"x":0.0161,"y":8.5},{"x":0.0164,"y":9.1},{"x":0.0167,"y":7.9},{"x":0.017,"y":8.3},{"x":0.0173,"y":8.6},{"x":0.0176,"y":8.4},{"x":0.0179,"y":8.8},{"x":0.0182,"y":8.4},{"x":0.0185,"y":8.7},{"x":0.0188,"y":8.3},{"x":0.0191,"y":8.8},{"x":0.0194,"y":8.5},{"x":0.0197,"y":8.7},{"x":0.02,"y":8.4},{"x":0.0203,"y":8.6},{"x":0.0206,"y":8.3},{"x":0.0209,"y":8.8},{"x":0.0212,"y":8.1},{"x":0.0215,"y":8.5},{"x":0.0218,"y":7.9},{"x":0.0221,"y":8.6},{"x":0.0224,"y":8.4},{"x":0.0227,"y":8.9},{"x":0.023,"y":8.6},{"x":0.0233,"y":8.8},{"x":0.0236,"y":8.5},{"x":0.0239,"y":9.1},{"x":0.0242,"y":9.2},{"x":0.0245,"y":8.7},{"x":0.0248,"y":8.4},{"x":0.0251,"y":8.8},{"x":0.0254,"y":8.5},{"x":0.0257,"y":8.9},{"x":0.026,"y":8.6},{"x":0.0263,"y":8.7},{"x":0.0266,"y":8.3},{"x":0.0269,"y":8.9},{"x":0.0272,"y":8.6},{"x":0.0275,"y":8.8},{"x":0.0278,"y":8.2},{"x":0.0281,"y":8.7},{"x":0.0284,"y":8.5},{"x":0.0287,"y":9.0},{"x":0.029,"y":8.6},{"x":0.0293,"y":8.9},{"x":0.0296,"y":8.4},{"x":0.0299,"y":8.8},{"x":0.0302,"y":8.5},{"x":0.0305,"y":9.1},{"x":0.0308,"y":8.7},{"x":0.0311,"y":8.9},{"x":0.0314,"y":8.5},{"x":0.0317,"y":8.8},{"x":0.032,"y":8.6},{"x":0.0323,"y":8.9},{"x":0.0326,"y":8.7},{"x":0.033,"y":8.95},{"x":0.0334,"y":8.85},{"x":0.0337,"y":8.9}
 ],
 "bModel": [
  {"x":0,"y":0},{"x":0,"y":5.9},{"x":0,"y":6.95},{"x":0.0002,"y":7.5},{"x":0.0005,"y":7.78},{"x":0.001,"y":7.9},{"x":0.0023,"y":8.0},{"x":0.006,"y":8.12},{"x":0.01,"y":8.26},{"x":0.015,"y":8.42},{"x":0.02,"y":8.59},{"x":0.025,"y":8.75},{"x":0.03,"y":8.92},{"x":0.036,"y":9.1},{"x":0.0379,"y":9.12}
 ],
 "bMark": [
  {"x":0,"y":0},{"x":0,"y":5.9},{"x":0,"y":6.95},{"x":0.0023,"y":8.0},{"x":0.036,"y":9.1}
 ]
},
"spacing": 43,
"resolve": {"scale": {"color": "independent", "shape": "independent"}, "legend": {"color": "independent", "shape": "independent"}},
"hconcat": [
 {
  "width": 448, "height": 298,
  "title": {"text": "(a)", "orient": "bottom", "anchor": "middle", "frame": "group", "dx": -46, "offset": 19},
  "resolve": {"axis": {"x": "independent", "y": "independent"}},
  "layer": [
   {"data": {"name": "aS"}, "mark": {"type": "line", "color": "#7a7a7a", "strokeWidth": 1.5, "strokeDash": [5, 4]},
    "encoding": {
     "x": {"field": "x", "type": "quantitative", "scale": {"domain": [-0.005, 0.055], "nice": false, "zero": false}, "axis": {"orient": "bottom", "values": [0, 0.01, 0.02, 0.03, 0.04, 0.05], "format": ".2f", "grid": false, "tickSize": 4, "labelPadding": 6, "title": "Strain (mm/mm)", "titlePadding": 12, "zindex": 1}},
     "y": {"field": "y", "type": "quantitative", "scale": {"domain": [0, 14], "nice": false}, "axis": {"orient": "left", "values": [0, 2, 4, 6, 8, 10, 12, 14], "grid": false, "tickSize": 4, "labelPadding": 5, "title": "Stress (MPa)", "titlePadding": 8, "zindex": 1}},
     "detail": {"field": "s", "type": "nominal"}
    }},
   {"data": {"name": "aAvg"}, "mark": {"type": "line", "color": "#1c1c1c", "strokeWidth": 3},
    "encoding": {
     "x": {"field": "x", "type": "quantitative", "axis": {"orient": "bottom", "values": [-0.005, 0.005, 0.015, 0.025, 0.035, 0.045, 0.055], "labels": false, "domain": false, "grid": false, "tickSize": 3, "title": null, "zindex": 1}},
     "y": {"field": "y", "type": "quantitative", "axis": {"orient": "left", "values": [1, 3, 5, 7, 9, 11, 13], "labels": false, "domain": false, "grid": false, "tickSize": 3, "title": null, "zindex": 1}}
    }},
   {"data": {"name": "aModel"}, "mark": {"type": "line", "color": "#3553a5", "strokeWidth": 3},
    "encoding": {
     "x": {"field": "x", "type": "quantitative", "axis": {"orient": "bottom", "values": [0, 0.01, 0.02, 0.03, 0.04, 0.05], "labels": false, "domain": false, "ticks": false, "grid": true, "title": null, "zindex": 0}},
     "y": {"field": "y", "type": "quantitative", "axis": {"orient": "left", "values": [2, 4, 6, 8, 10, 12], "labels": false, "domain": false, "ticks": false, "grid": true, "title": null, "zindex": 0}},
     "order": {"field": "y", "type": "quantitative"}
    }},
   {"data": {"name": "aMark"}, "mark": {"type": "point", "shape": "triangle-up", "filled": true, "fill": "white", "stroke": "#3553a5", "strokeWidth": 1.5, "size": 70, "opacity": 1},
    "encoding": {
     "x": {"field": "x", "type": "quantitative", "axis": {"orient": "top", "labels": false, "ticks": false, "grid": false, "title": null, "zindex": 1}},
     "y": {"field": "y", "type": "quantitative", "axis": {"orient": "right", "labels": false, "ticks": false, "grid": false, "title": null, "zindex": 1}}
    }},
   {"data": {"values": []}, "mark": {"type": "point", "filled": false, "opacity": 1, "strokeWidth": 2},
    "encoding": {
     "x": {"field": "x", "type": "quantitative", "axis": null},
     "y": {"field": "y", "type": "quantitative", "axis": null},
     "color": {"field": "series", "type": "nominal", "scale": {"domain": ["Individual specimens", "Average", "Model"], "range": ["#7f7f7f", "#1c1c1c", "#3553a5"]},
      "legend": {"title": null, "orient": "bottom-right", "offset": 0, "padding": 3, "fillColor": "white", "strokeColor": "#1a1a1a", "symbolSize": 100, "symbolStrokeWidth": 2, "symbolOpacity": 1, "labelOffset": 28, "rowPadding": 4, "labelFontSize": 17, "zindex": 2}},
     "shape": {"field": "series", "type": "nominal", "scale": {"domain": ["Individual specimens", "Average", "Model"], "range": ["M-1.8,0L-0.8,0M0,0L1,0M1.8,0L2.8,0M3.6,0L4.6,0M5.4,0L6.2,0", "M-1.8,0L6.2,0", "M-1.8,0L1.3,0M3.1,0L6.2,0M2.2,-0.9L3.1,0.7L1.3,0.7Z"]},
      "legend": {"title": null, "orient": "bottom-right", "offset": 0, "padding": 3, "fillColor": "white", "strokeColor": "#1a1a1a", "symbolSize": 100, "symbolStrokeWidth": 2, "symbolOpacity": 1, "labelOffset": 28, "rowPadding": 4, "labelFontSize": 17, "zindex": 2}}
    }}
  ]
 },
 {
  "width": 450, "height": 298,
  "title": {"text": "(b)", "orient": "bottom", "anchor": "middle", "frame": "group", "dx": -47, "offset": 19},
  "resolve": {"axis": {"x": "independent", "y": "independent"}},
  "layer": [
   {"data": {"name": "bS"}, "mark": {"type": "line", "color": "#7a7a7a", "strokeWidth": 1.5, "strokeDash": [5, 4]},
    "encoding": {
     "x": {"field": "x", "type": "quantitative", "scale": {"domain": [-0.005, 0.055], "nice": false, "zero": false}, "axis": {"orient": "bottom", "values": [0, 0.01, 0.02, 0.03, 0.04, 0.05], "format": ".2f", "grid": false, "tickSize": 4, "labelPadding": 6, "title": "Strain (mm/mm)", "titlePadding": 12, "zindex": 1}},
     "y": {"field": "y", "type": "quantitative", "scale": {"domain": [0, 14], "nice": false}, "axis": {"orient": "left", "values": [0, 2, 4, 6, 8, 10, 12, 14], "grid": false, "tickSize": 4, "labelPadding": 5, "title": "Stress (MPa)", "titlePadding": 8, "zindex": 1}},
     "detail": {"field": "s", "type": "nominal"}
    }},
   {"data": {"name": "bAvg"}, "mark": {"type": "line", "color": "#1c1c1c", "strokeWidth": 3},
    "encoding": {
     "x": {"field": "x", "type": "quantitative", "axis": {"orient": "bottom", "values": [-0.005, 0.005, 0.015, 0.025, 0.035, 0.045, 0.055], "labels": false, "domain": false, "grid": false, "tickSize": 3, "title": null, "zindex": 1}},
     "y": {"field": "y", "type": "quantitative", "axis": {"orient": "left", "values": [1, 3, 5, 7, 9, 11, 13], "labels": false, "domain": false, "grid": false, "tickSize": 3, "title": null, "zindex": 1}}
    }},
   {"data": {"name": "bModel"}, "mark": {"type": "line", "color": "#3553a5", "strokeWidth": 3},
    "encoding": {
     "x": {"field": "x", "type": "quantitative", "axis": {"orient": "bottom", "values": [0, 0.01, 0.02, 0.03, 0.04, 0.05], "labels": false, "domain": false, "ticks": false, "grid": true, "title": null, "zindex": 0}},
     "y": {"field": "y", "type": "quantitative", "axis": {"orient": "left", "values": [2, 4, 6, 8, 10, 12], "labels": false, "domain": false, "ticks": false, "grid": true, "title": null, "zindex": 0}},
     "order": {"field": "y", "type": "quantitative"}
    }},
   {"data": {"name": "bMark"}, "mark": {"type": "point", "shape": "triangle-up", "filled": true, "fill": "white", "stroke": "#3553a5", "strokeWidth": 1.5, "size": 70, "opacity": 1},
    "encoding": {
     "x": {"field": "x", "type": "quantitative", "axis": {"orient": "top", "labels": false, "ticks": false, "grid": false, "title": null, "zindex": 1}},
     "y": {"field": "y", "type": "quantitative", "axis": {"orient": "right", "labels": false, "ticks": false, "grid": false, "title": null, "zindex": 1}}
    }},
   {"data": {"values": []}, "mark": {"type": "point", "filled": false, "opacity": 1, "strokeWidth": 2},
    "encoding": {
     "x": {"field": "x", "type": "quantitative", "axis": null},
     "y": {"field": "y", "type": "quantitative", "axis": null},
     "color": {"field": "series", "type": "nominal", "scale": {"domain": ["Individual specimens", "Average", "Model"], "range": ["#7f7f7f", "#1c1c1c", "#3553a5"]},
      "legend": {"title": null, "orient": "bottom-right", "offset": 0, "padding": 3, "fillColor": "white", "strokeColor": "#1a1a1a", "symbolSize": 100, "symbolStrokeWidth": 2, "symbolOpacity": 1, "labelOffset": 28, "rowPadding": 4, "labelFontSize": 17, "zindex": 2}},
     "shape": {"field": "series", "type": "nominal", "scale": {"domain": ["Individual specimens", "Average", "Model"], "range": ["M-1.8,0L-0.8,0M0,0L1,0M1.8,0L2.8,0M3.6,0L4.6,0M5.4,0L6.2,0", "M-1.8,0L6.2,0", "M-1.8,0L1.3,0M3.1,0L6.2,0M2.2,-0.9L3.1,0.7L1.3,0.7Z"]},
      "legend": {"title": null, "orient": "bottom-right", "offset": 0, "padding": 3, "fillColor": "white", "strokeColor": "#1a1a1a", "symbolSize": 100, "symbolStrokeWidth": 2, "symbolOpacity": 1, "labelOffset": 28, "rowPadding": 4, "labelFontSize": 17, "zindex": 2}}
    }}
  ]
 }
]
}
